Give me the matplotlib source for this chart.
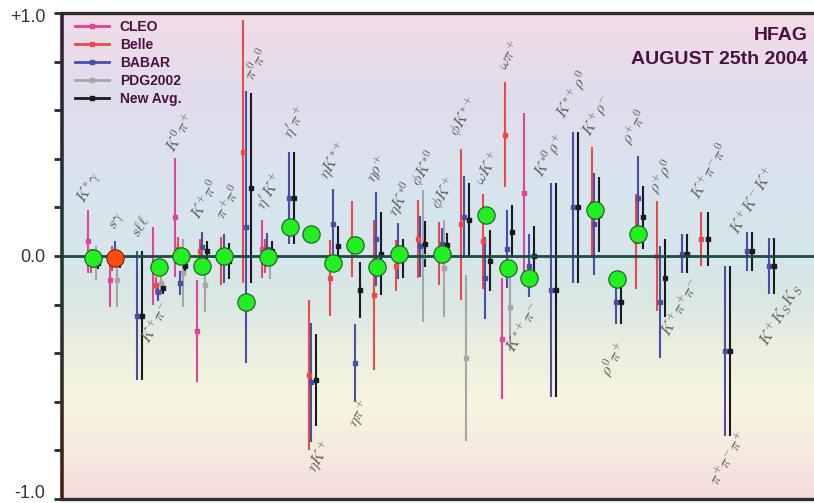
import numpy as np
import matplotlib
matplotlib.use("Agg")
import matplotlib.pyplot as plt
import matplotlib.transforms as mtransforms
from matplotlib.colors import LinearSegmentedColormap
from matplotlib.lines import Line2D
from matplotlib.collections import LineCollection

nan = np.nan

##==================== data (CP asymmetries) ===========================
modes = [r"$K^{*}\gamma$", r"$s\gamma$", r"$s\ell\ell$", r"$K^{+}\pi^{-}$", r"$K^{0}\pi^{+}$",
         r"$K^{+}\pi^{0}$", r"$\pi^{+}\pi^{0}$", r"$\pi^{0}\pi^{0}$", r"$\eta^{\prime}K^{+}$",
         r"$\eta^{\prime}\pi^{+}$", r"$\eta K^{+}$", r"$\eta K^{*+}$", r"$\eta\pi^{+}$",
         r"$\eta\rho^{+}$", r"$\eta K^{*0}$", r"$\phi K^{*0}$", r"$\phi K^{+}$", r"$\phi K^{*+}$",
         r"$\omega K^{+}$", r"$\omega\pi^{+}$", r"$K^{*+}\pi^{-}$", r"$K^{*0}\rho^{+}$",
         r"$K^{*+}\rho^{0}$", r"$K^{+}\rho^{-}$", r"$\rho^{0}\pi^{+}$", r"$\rho^{+}\pi^{0}$",
         r"$\rho^{+}\rho^{0}$", r"$K^{+}\pi^{+}\pi^{-}$", r"$K^{+}\pi^{-}\pi^{0}$",
         r"$\pi^{+}\pi^{-}\pi^{+}$", r"$K^{+}K^{-}K^{+}$", r"$K^{+}K_{S}K_{S}$"]

cleo_val = [0.06, -0.10, nan, -0.04, 0.16, -0.31, nan, nan, 0.03, nan,
            nan, nan, nan, nan, nan, nan, nan, nan, nan, -0.34,
            0.26, nan, nan, nan, nan, nan, nan, nan, nan, nan, nan, nan]
cleo_err = [0.13, 0.11, nan, 0.16, 0.245, 0.21, nan, nan, 0.12, nan,
            nan, nan, nan, nan, nan, nan, nan, nan, nan, 0.25,
            0.33, nan, nan, nan, nan, nan, nan, nan, nan, nan, nan, nan]

belle_val = [-0.02, -0.01, nan, -0.12, 0.03, 0.02, -0.02, 0.43, 0.0, nan,
             -0.49, -0.09, 0.07, -0.16, -0.04, 0.07, 0.01, 0.13, 0.06, 0.50,
             nan, nan, nan, 0.22, nan, 0.06, 0.0, nan, 0.07, nan, nan, nan]
belle_err = [0.05, 0.05, nan, 0.035, 0.05, 0.05, 0.10, 0.54, 0.07, nan,
             0.31, 0.155, 0.155, 0.31, 0.105, 0.16, 0.13, 0.31, 0.195, 0.215,
             nan, nan, nan, 0.23, nan, 0.195, 0.225, nan, 0.11, nan, nan, nan]

babar_val = [-0.01, 0.01, -0.245, -0.15, -0.11, 0.035, -0.01, 0.12, 0.03, 0.24,
             -0.52, 0.13, -0.44, 0.07, 0.02, 0.04, 0.05, 0.16, -0.09, 0.03,
             -0.04, -0.14, 0.20, 0.13, -0.19, 0.24, -0.19, 0.01, nan, -0.39, 0.02, -0.04]
babar_err = [0.04, 0.05, 0.265, 0.035, 0.05, 0.065, 0.10, 0.56, 0.065, 0.19,
             0.245, 0.145, 0.16, 0.195, 0.115, 0.125, 0.065, 0.17, 0.17, 0.16,
             0.13, 0.44, 0.31, 0.21, 0.09, 0.17, 0.23, 0.08, nan, 0.35, 0.08, 0.115]

pdg_val = [-0.03, -0.10, nan, -0.11, -0.07, -0.12, nan, nan, -0.03, nan,
           nan, nan, nan, nan, nan, 0.0, -0.05, -0.42, nan, -0.21,
           nan, nan, nan, nan, nan, nan, nan, nan, nan, nan, nan, nan]
pdg_err = [0.07, 0.11, nan, 0.045, 0.14, 0.11, nan, nan, 0.065, nan,
           nan, nan, nan, nan, nan, 0.27, 0.20, 0.34, nan, 0.18,
           nan, nan, nan, nan, nan, nan, nan, nan, nan, nan, nan, nan]

avg_val = [-0.03, -0.02, -0.245, -0.13, -0.04, 0.02, -0.02, 0.28, 0.02, 0.24,
           -0.51, 0.04, -0.14, 0.01, -0.01, 0.05, 0.045, 0.15, -0.02, 0.10,
           0.0, -0.14, 0.20, 0.17, -0.19, 0.16, -0.09, 0.01, 0.07, -0.39, 0.02, -0.04]
avg_err = [0.025, 0.03, 0.265, 0.025, 0.03, 0.04, 0.075, 0.39, 0.04, 0.19,
           0.19, 0.085, 0.115, 0.17, 0.08, 0.095, 0.05, 0.15, 0.125, 0.11,
           0.125, 0.44, 0.31, 0.155, 0.09, 0.13, 0.16, 0.08, 0.11, 0.35, 0.08, 0.115]

# big circles (sgamma drawn in orange)
circle_val = [-0.01, -0.01, nan, -0.045, 0.0, -0.04, 0.0, -0.19, -0.005, 0.12,
              0.09, -0.03, 0.045, -0.045, 0.01, nan, 0.01, nan, 0.17, -0.05,
              -0.09, nan, nan, 0.19, -0.095, 0.09, nan, nan, nan, nan, nan, nan]
orange_mode = 1

# label placement: dx from group and y anchor (above if y > 0)
label_dx = [0.05, 0.42, 0.43, 0.30, 0.08, 0.23, 0.38, 0.70, 0.30, 0.54,
            0.64, 0.19, 0.39, 0.35, 0.36, 0.41, 0.33, 0.16, 0.26, 0.31,
            0.28, 0.0, 0.0, 0.21, 0.08, 0.05, 0.28, 0.61, 0.17, 0.77, -0.05, 1.20]
label_y = [0.20, 0.095, 0.066, -0.18, 0.415, 0.14, 0.14, 0.71, 0.177, 0.47,
           -0.745, 0.30, -0.58, 0.29, 0.148, 0.27, 0.177, 0.477, 0.28, 0.757,
           -0.18, 0.31, 0.55, 0.477, -0.337, 0.444, 0.243, -0.078, 0.222, -0.708, 0.078, -0.10]

##==================== styling ===========================
plt.rcParams["mathtext.fontset"] = "cm"
plt.rcParams["font.family"] = ["Liberation Sans", "DejaVu Sans"]

exps = [("CLEO", cleo_val, cleo_err, "#e2449c", 0.0),
        ("Belle", belle_val, belle_err, "#e84a48", 0.115),
        ("BABAR", babar_val, babar_err, "#4a4ea6", 0.23),
        ("PDG2002", pdg_val, pdg_err, "#a6a6a6", 0.345),
        ("New Avg.", avg_val, avg_err, "#1a1a22", 0.46)]

txt_col = "#4a1040"
x0, x1 = -26 / 21.8, 726 / 21.8

fig = plt.figure(figsize=(8.14, 5.03), dpi=100)
ax = fig.add_axes([62 / 814, 4 / 503, 1 - 62 / 814, 486 / 503])

# background gradient
bg = LinearSegmentedColormap.from_list("bg", [
    (0.0, "#f4dcdc"), (0.1, "#f5ebdf"), (0.2, "#f7f5e0"), (0.3, "#ecf0de"),
    (0.4, "#dbe8e4"), (0.5, "#d5e6ea"), (0.65, "#d8e4ee"), (0.85, "#e2dceb"),
    (1.0, "#f2dce6")])
ax.imshow(np.linspace(0, 1, 256).reshape(-1, 1), extent=[x0, x1, -1, 1],
          origin="lower", cmap=bg, aspect="auto", zorder=0)

# error bars
idx = np.arange(len(modes))
for name, v, e, c, off in exps:
    v = np.array(v); e = np.array(e)
    m = ~np.isnan(v)
    ax.errorbar(idx[m] + off, v[m], yerr=e[m], fmt="s", ms=2.4, color=c,
                elinewidth=1.5, capsize=0, zorder=3)

ax.axhline(0, color="#1e4a44", lw=2, zorder=3.5)

cv = np.array(circle_val)
m = ~np.isnan(cv)
m_orange = np.zeros_like(m); m_orange[orange_mode] = True
ax.plot(idx[m & ~m_orange] + 0.25, cv[m & ~m_orange], "o", ms=12.5, mfc="#22ee22",
        mec="#1f5a1f", mew=0.8, zorder=5)
ax.plot(idx[m_orange] + 0.25, cv[m_orange], "o", ms=12.5, mfc="#ff4a10",
        mec="#6a2a10", mew=0.8, zorder=5)

# mode labels
for i, lab in enumerate(modes):
    up = label_y[i] > 0
    ax.text(i + label_dx[i], label_y[i], lab, rotation=60, rotation_mode="anchor",
            ha="left" if up else "right", va="bottom" if up else "top",
            fontsize=11.5, color="#5c5c5c", zorder=6)

ax.set_xlim(x0, x1)
ax.set_ylim(-1, 1)

# axes frame
for s in ["right", "left"]:
    ax.spines[s].set_visible(False)
for s in ["top", "bottom"]:
    ax.spines[s].set_color("#2e2e2e")
    ax.spines[s].set_linewidth(2.4)
ys = np.linspace(-1, 1, 200)
segs = [[(0, ys[k]), (0, ys[k + 1])] for k in range(len(ys) - 1)]
spine_cmap = LinearSegmentedColormap.from_list("sp", ["#4a2010", "#1a3c36", "#3a1a3a"])
lc = LineCollection(segs, colors=spine_cmap(np.linspace(0, 1, len(segs))), lw=2.6,
                    transform=ax.get_yaxis_transform(), clip_on=False, zorder=7)
ax.add_collection(lc)

ax.set_xticks([])
yt = np.round(np.arange(-1, 1.01, 0.2), 1)
ax.set_yticks(yt)
ax.set_yticklabels(["-1.0" if t == -1 else "0.0" if t == 0 else "+1.0" if t == 1 else "" for t in yt])
ax.tick_params(axis="y", direction="out", length=6, width=2, color="#2a2a2a",
               labelsize=13, pad=6, labelcolor="#333333")
# nudge end labels inside the figure
tl = ax.get_yticklabels()
tl[0].set_transform(tl[0].get_transform() + mtransforms.ScaledTranslation(0, 7 / 100, fig.dpi_scale_trans))
tl[-1].set_transform(tl[-1].get_transform() + mtransforms.ScaledTranslation(0, -3 / 100, fig.dpi_scale_trans))

# legend
handles = [Line2D([], [], color=c, lw=2, marker="s", ms=2.4) for _, _, _, c, _ in exps]
leg = ax.legend(handles, [n for n, _, _, _, _ in exps], loc="upper left",
                bbox_to_anchor=(0.0, 1.012), frameon=False, handlelength=2.5,
                handletextpad=0.75, labelspacing=0.3, borderaxespad=0.5,
                prop={"weight": "bold", "size": 10})
for t in leg.get_texts():
    t.set_color(txt_col)

fig.text(808 / 814, 1 - 35 / 503, "HFAG", ha="right", va="center", fontsize=14,
         fontweight="bold", color=txt_col)
fig.text(808 / 814, 1 - 60 / 503, "AUGUST 25th 2004", ha="right", va="center",
         fontsize=14, fontweight="bold", color=txt_col)

fig.savefig("out.png", dpi=100)
